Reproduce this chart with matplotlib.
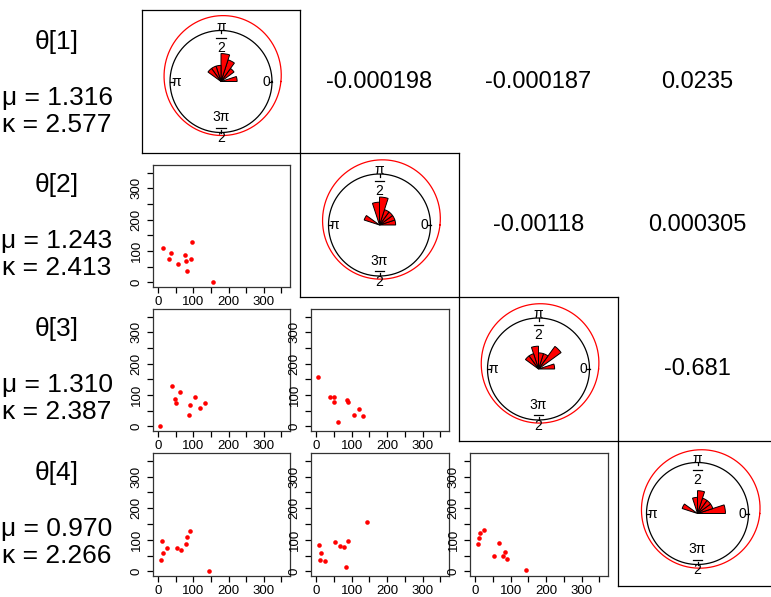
import numpy as np
import matplotlib
matplotlib.use("Agg")
import matplotlib.pyplot as plt
from matplotlib.patches import Wedge

plt.rcParams['font.family'] = ['Liberation Sans', 'DejaVu Sans']

theta1 = [0.5, 128, 109, 95, 86, 75, 74, 69, 59, 37]
theta2 = [157, 95, 13, 37, 77, 32, 93, 79, 57, 83]
theta3 = [5, 40, 63, 106, 49, 132, 50, 91, 120, 87]
theta4 = [144, 90, 83, 10, 79, 24, 53, 66, 13, 9]
thetas = [theta1, theta2, theta3, theta4]

var_names = ['θ[1]', 'θ[2]', 'θ[3]', 'θ[4]']
mu_labels = ['1.316', '1.243', '1.310', '0.970']
kappa_labels = ['2.577', '2.413', '2.387', '2.266']
corr_labels = [[None, '-0.000198', '-0.000187', '0.0235'],
               [None, None, '-0.00118', '0.000305'],
               [None, None, None, '-0.681']]

n_bins = 20
bw = 1.0

W, H = 771, 597
col_edges = [142, 300, 459, 618, 777]
row_edges = [10, 153, 297, 441, 586]
R = 51.0  # px per unit radius

fig = plt.figure(figsize=(W / 100, H / 100), dpi=100)


def px_axes(x0, y0, x1, y1):
    return fig.add_axes([x0 / W, 1 - y1 / H, (x1 - x0) / W, (y1 - y0) / H])


def frac(ax, x, y, num, den, fs):
    ax.text(x, y + 0.21, num, ha='center', va='center', fontsize=fs)
    ax.plot([x - 0.09, x + 0.09], [y, y], color='black', lw=0.9)
    ax.text(x, y - 0.2, den, ha='center', va='center', fontsize=fs)


def circ_panel(ax, data):
    rad = np.deg2rad(np.array(data))
    n = len(rad)
    t = np.linspace(0, 2 * np.pi, 721)
    ax.plot(np.cos(t), np.sin(t), color='black', lw=0.9)
    # kernel density (von Mises kernel)
    dens = np.exp(bw * np.cos(t[:, None] - rad[None, :])).mean(axis=1) / (2 * np.pi * np.i0(bw))
    r = 1 + dens
    ax.plot(r * np.cos(t), r * np.sin(t), color='red', lw=0.9)
    # rose diagram
    edges = np.linspace(0, 2 * np.pi, n_bins + 1)
    counts, _ = np.histogram(rad, edges)
    for k, c in enumerate(counts):
        if c > 0:
            ax.add_patch(Wedge((0, 0), np.sqrt(c / n), np.degrees(edges[k]), np.degrees(edges[k + 1]),
                               facecolor='red', edgecolor='black', lw=0.7))
    for a in [0, np.pi / 2, np.pi, 3 * np.pi / 2]:
        ax.plot([0.95 * np.cos(a), np.cos(a)], [0.95 * np.sin(a), np.sin(a)], color='black', lw=0.9)
    fs = 10
    ax.text(0.88, 0, '0', ha='center', va='center', fontsize=fs)
    ax.text(-0.88, 0, 'π', ha='center', va='center', fontsize=fs)
    frac(ax, 0, 0.86, 'π', '2', fs)
    frac(ax, 0, -0.91, '3π', '2', fs)


for i in range(4):
    x0, x1 = col_edges[i], col_edges[i + 1]
    y0, y1 = row_edges[i], row_edges[i + 1]
    # diagonal: circular plot in a boxed cell
    ax = px_axes(x0, y0, x1, y1)
    w, h = x1 - x0, y1 - y0
    ax.set_xlim(-w / 2 / R, w / 2 / R)
    ax.set_ylim(-h / 2 / R, h / 2 / R)
    ax.set_xticks([])
    ax.set_yticks([])
    for s in ax.spines.values():
        s.set_linewidth(0.9)
    circ_panel(ax, thetas[i])

    # left labels
    fig.text(57 / W, 1 - (y0 + 32) / H, var_names[i], ha='center', va='center', fontsize=19)
    fig.text(57 / W, 1 - (y0 + 88) / H, 'μ = ' + mu_labels[i], ha='center', va='center', fontsize=19)
    fig.text(57 / W, 1 - (y0 + 115) / H, 'κ = ' + kappa_labels[i], ha='center', va='center', fontsize=19)

    # upper triangle: correlations
    for j in range(i + 1, 4):
        cx = (col_edges[j] + col_edges[j + 1]) / 2
        cy = (y0 + y1) / 2
        fig.text(cx / W, 1 - cy / H, corr_labels[i][j], ha='center', va='center', fontsize=17)

    # lower triangle: scatter plots (x = row variable, y = column variable)
    for j in range(i):
        px0 = col_edges[j] + 11
        px1 = col_edges[j + 1] - 10
        py0 = y0 + 12
        py1 = y1 - 10
        ax = px_axes(px0, py0, px1, py1)
        ax.plot(thetas[i], thetas[j], 'o', color='red', markersize=3.3, markeredgewidth=0)
        ax.set_xlim(-14.4, 374.4)
        ax.set_ylim(-14.4, 374.4)
        ticks = np.arange(0, 351, 50)
        labs = [str(v) if v % 100 == 0 else '' for v in ticks]
        ax.set_xticks(ticks)
        ax.set_xticklabels(labs)
        ax.set_yticks(ticks)
        ax.set_yticklabels(labs)
        ax.tick_params(length=4, width=0.9, labelsize=9.5, colors='black')
        ax.tick_params(axis='x', pad=2.5)
        ax.tick_params(axis='y', pad=3.5)
        for t in ax.get_yticklabels():
            t.set_rotation(90)
            t.set_va('center')
        for s in ax.spines.values():
            s.set_linewidth(0.9)
            s.set_color('#333333')

fig.savefig('out.png', dpi=100)
